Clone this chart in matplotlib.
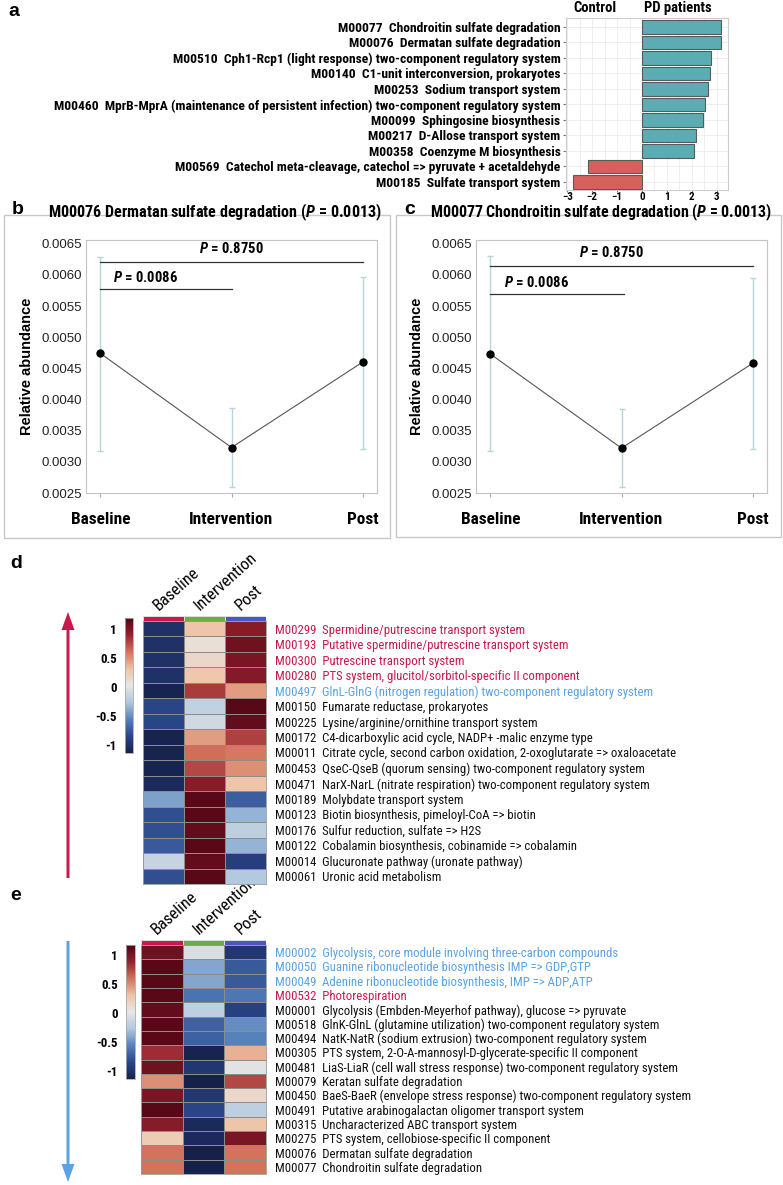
import numpy as np
import matplotlib
matplotlib.use('Agg')
import matplotlib.pyplot as plt
from matplotlib import font_manager
from matplotlib.colors import ListedColormap, LinearSegmentedColormap
from matplotlib.patches import Rectangle, FancyArrow

installed = {f.name for f in font_manager.fontManager.ttflist}
narrow = next(n for n in ['Liberation Sans Narrow', 'Roboto Condensed', 'Lato', 'DejaVu Sans'] if n in installed)
arial = next(n for n in ['Liberation Sans', 'DejaVu Sans'] if n in installed)
plt.rcParams['font.family'] = [narrow, 'DejaVu Sans']
plt.rcParams['mathtext.fontset'] = 'custom'
plt.rcParams['mathtext.it'] = narrow + ':italic:bold'
plt.rcParams['mathtext.rm'] = narrow + ':bold'

W, H = 783, 1185

# ---- panel a: enrichment scores
a_labels = ['M00077  Chondroitin sulfate degradation',
            'M00076  Dermatan sulfate degradation',
            'M00510  Cph1-Rcp1 (light response) two-component regulatory system',
            'M00140  C1-unit interconversion, prokaryotes',
            'M00253  Sodium transport system',
            'M00460  MprB-MprA (maintenance of persistent infection) two-component regulatory system',
            'M00099  Sphingosine biosynthesis',
            'M00217  D-Allose transport system',
            'M00358  Coenzyme M biosynthesis',
            'M00569  Catechol meta-cleavage, catechol => pyruvate + acetaldehyde',
            'M00185  Sulfate transport system']
a_values = [3.15, 3.15, 2.78, 2.74, 2.63, 2.52, 2.43, 2.15, 2.09, -2.15, -2.77]

# ---- panels b, c: relative abundance over time
groups = ['Baseline', 'Intervention', 'Post']
b_mean = [0.00474, 0.00323, 0.00460]
b_low = [0.00318, 0.00260, 0.00321]
b_high = [0.00629, 0.00386, 0.00597]
b_sig = [(0, 1, 0.00577, 0.34, 0.00596, '0.0086'), (0, 2, 0.00621, 1.0, 0.00642, '0.8750')]
c_mean = [0.00473, 0.00322, 0.00458]
c_low = [0.00317, 0.00260, 0.00320]
c_high = [0.00630, 0.00385, 0.00595]
c_sig = [(0, 1.02, 0.00569, 0.35, 0.00588, '0.0086'), (0, 2, 0.00615, 0.92, 0.00636, '0.8750')]

# ---- panel d: z-scored modules increasing
d_labels = ['M00299  Spermidine/putrescine transport system',
            'M00193  Putative spermidine/putrescine transport system',
            'M00300  Putrescine transport system',
            'M00280  PTS system, glucitol/sorbitol-specific II component',
            'M00497  GlnL-GlnG (nitrogen regulation) two-component regulatory system',
            'M00150  Fumarate reductase, prokaryotes',
            'M00225  Lysine/arginine/ornithine transport system',
            'M00172  C4-dicarboxylic acid cycle, NADP+ -malic enzyme type',
            'M00011  Citrate cycle, second carbon oxidation, 2-oxoglutarate => oxaloacetate',
            'M00453  QseC-QseB (quorum sensing) two-component regulatory system',
            'M00471  NarX-NarL (nitrate respiration) two-component regulatory system',
            'M00189  Molybdate transport system',
            'M00123  Biotin biosynthesis, pimeloyl-CoA => biotin',
            'M00176  Sulfur reduction, sulfate => H2S',
            'M00122  Cobalamin biosynthesis, cobinamide => cobalamin',
            'M00014  Glucuronate pathway (uronate pathway)',
            'M00061  Uronic acid metabolism']
d_mark = ['up'] * 4 + ['down'] + [''] * 12
d_values = [[-1.00, 0.30, 0.95],
            [-1.00, 0.08, 1.05],
            [-1.00, 0.15, 1.00],
            [-1.00, 0.28, 0.97],
            [-1.10, 0.80, 0.45],
            [-0.85, -0.18, 1.15],
            [-0.85, -0.10, 1.10],
            [-1.10, 0.45, 0.78],
            [-1.10, 0.62, 0.58],
            [-1.10, 0.75, 0.50],
            [-1.05, 0.95, 0.30],
            [-0.42, 1.15, -0.72],
            [-0.80, 1.15, -0.35],
            [-0.80, 1.10, -0.20],
            [-0.75, 1.15, -0.35],
            [-0.15, 1.10, -0.90],
            [-0.80, 1.15, -0.25]]

# ---- panel e: z-scored modules decreasing
e_labels = ['M00002  Glycolysis, core module involving three-carbon compounds',
            'M00050  Guanine ribonucleotide biosynthesis IMP => GDP,GTP',
            'M00049  Adenine ribonucleotide biosynthesis, IMP => ADP,ATP',
            'M00532  Photorespiration',
            'M00001  Glycolysis (Embden-Meyerhof pathway), glucose => pyruvate',
            'M00518  GlnK-GlnL (glutamine utilization) two-component regulatory system',
            'M00494  NatK-NatR (sodium extrusion) two-component regulatory system',
            'M00305  PTS system, 2-O-A-mannosyl-D-glycerate-specific II component',
            'M00481  LiaS-LiaR (cell wall stress response) two-component regulatory system',
            'M00079  Keratan sulfate degradation',
            'M00450  BaeS-BaeR (envelope stress response) two-component regulatory system',
            'M00491  Putative arabinogalactan oligomer transport system',
            'M00315  Uncharacterized ABC transport system',
            'M00275  PTS system, cellobiose-specific II component',
            'M00076  Dermatan sulfate degradation',
            'M00077  Chondroitin sulfate degradation']
e_mark = ['down'] * 3 + ['up'] + [''] * 12
e_values = [[1.05, -0.05, -0.95],
            [1.15, -0.40, -0.75],
            [1.15, -0.40, -0.75],
            [1.15, -0.62, -0.60],
            [1.10, -0.20, -0.88],
            [1.15, -0.70, -0.50],
            [1.15, -0.70, -0.55],
            [0.85, -1.10, 0.38],
            [1.05, -0.95, -0.02],
            [0.50, -1.15, 0.75],
            [1.00, -0.95, 0.15],
            [1.15, -0.85, -0.20],
            [0.95, -1.05, 0.30],
            [0.25, -1.05, 1.00],
            [0.60, -1.15, 0.60],
            [0.60, -1.15, 0.60]]

RED = '#c8194c'
BLUE = '#59a3e6'
mark_color = {'up': RED, 'down': BLUE, '': '#111111'}


def box(l, t, r, b):
    return [l / W, 1 - b / H, (r - l) / W, (b - t) / H]


fig = plt.figure(figsize=(W / 100, H / 100), dpi=100)
bg = fig.add_axes([0, 0, 1, 1])
bg.set_xlim(0, W)
bg.set_ylim(H, 0)
bg.axis('off')

for ch, x, y in [('a', 8, 12), ('b', 12, 209), ('c', 404, 209), ('d', 10, 563), ('e', 10, 896)]:
    bg.text(x, y, ch, fontsize=14, fontweight='bold', family=arial, va='center')

# ---- a
ax = fig.add_axes(box(566, 18, 728, 190))
y = np.arange(len(a_values))
cols = ['#5badb3' if v > 0 else '#d5605c' for v in a_values]
ax.barh(y, a_values, height=0.88, color=cols, edgecolor='#5a5a5a', linewidth=0.8, zorder=3)
ax.set_xlim(-3.05, 3.45)
ax.set_ylim(len(a_values) - 0.48, -0.58)
ax.set_xticks(range(-3, 4))
ax.set_xticks(np.arange(-2.5, 3.5, 1), minor=True)
ax.grid(True, which='both', color='#ebebeb', lw=0.6, zorder=0)
ax.set_yticks(y, a_labels, fontsize=9.7, fontweight='bold')
ax.tick_params(axis='y', which='both', length=2, color='#777777', pad=2)
ax.tick_params(axis='x', which='major', length=1.5, color='#777777', labelsize=8, pad=0.2)
ax.tick_params(axis='x', which='minor', length=0)
for t in ax.get_xticklabels():
    t.set_fontweight('bold')
for s in ax.spines.values():
    s.set_color('#cccccc')
ax.text(-1.9, 1.015, 'Control', transform=ax.get_xaxis_transform(), ha='center', va='bottom',
        fontsize=10.5, fontweight='bold')
ax.text(1.45, 1.015, 'PD patients', transform=ax.get_xaxis_transform(), ha='center', va='bottom',
        fontsize=10.5, fontweight='bold')


# ---- b, c
def trend(rect, mean, low, high, sig):
    ax = fig.add_axes(box(*rect))
    x = np.arange(len(groups))
    mean = np.array(mean)
    err = [mean - np.array(low), np.array(high) - mean]
    ax.errorbar(x, mean, yerr=err, fmt='none', ecolor='#b7d6da', elinewidth=1, capsize=2.5, capthick=1)
    ax.plot(x, mean, color='#555555', lw=0.8)
    ax.plot(x, mean, 'o', color='black', ms=5)
    for x0, x1, yl, xt, yt, p in sig:
        ax.plot([x0, x1], [yl, yl], color='#333333', lw=0.9)
        ax.text(xt, yt, r'$\it{P}$ = ' + p, ha='center', va='center', fontsize=10.5, fontweight='bold')
    ax.set_xlim(-0.11, 2.11)
    ax.set_ylim(0.0025, 0.00656)
    ticks = np.arange(0.0025, 0.00651, 0.0005)
    ax.set_yticks(ticks)
    ax.set_yticklabels(['%.4f' % v for v in ticks], family=arial, fontsize=9.5)
    ax.set_xticks(x, groups, fontsize=12.4, fontweight='bold')
    ax.tick_params(axis='y', length=0, pad=3, colors='#222222')
    ax.tick_params(axis='x', length=3, pad=11, color='#aaaaaa')
    ax.set_ylabel('Relative abundance', family=arial, fontsize=10.5, fontweight='bold', labelpad=5)
    for s in ax.spines.values():
        s.set_color('#c4c4c4')
        s.set_linewidth(0.8)
    return ax


bg.add_patch(Rectangle((4, 215), 386, 323, fill=False, ec='#c8c8c8', lw=1))
bg.add_patch(Rectangle((396, 215), 385, 322, fill=False, ec='#c8c8c8', lw=1))
bg.text(48, 212.5, r'M00076 Dermatan sulfate degradation ($\it{P}$ = 0.0013)', ha='left', va='center',
        fontsize=11.6, fontweight='bold')
bg.text(430, 212.5, r'M00077 Chondroitin sulfate degradation ($\it{P}$ = 0.0013)', ha='left', va='center',
        fontsize=11.4, fontweight='bold')
trend((86, 240, 377, 493), b_mean, b_low, b_high, b_sig)
trend((476, 240, 767, 493), c_mean, c_low, c_high, c_sig)

# ---- d, e heatmaps
cmap = LinearSegmentedColormap.from_list('zs', ['#16214a', '#2a468a', '#5581bb', '#b0c8e0', '#e8e6e4',
                                                '#efc3a6', '#d2735a', '#95222e', '#520515'])
strip_cmap = ListedColormap([RED, '#6aae45', '#4a54cf'])


def heat(l, t, r, b, values, labels, marks, cbar_rect):
    hm = fig.add_axes(box(l, t, r, b))
    v = np.array(values)
    m = hm.pcolormesh(v, cmap=cmap, vmin=-1.13, vmax=1.18, edgecolors='#8c8c8c', linewidth=0.6)
    hm.set_xlim(0, 3)
    hm.set_ylim(len(v), 0)
    hm.set_xticks([])
    hm.yaxis.tick_right()
    hm.set_yticks(np.arange(len(v)) + 0.5, labels, fontsize=9.2)
    for t_, mk in zip(hm.get_yticklabels(), marks):
        t_.set_color(mark_color[mk])
    hm.tick_params(axis='y', length=0, pad=6.5)
    for s in hm.spines.values():
        s.set_color('#9a9a9a')
        s.set_linewidth(0.6)

    st = fig.add_axes(box(l, t - 5, r, t - 0.5))
    st.pcolormesh([[0, 1, 2]], cmap=strip_cmap, vmin=0, vmax=2, edgecolors='#dddddd', linewidth=0.5)
    st.set_xticks([])
    st.set_yticks([])
    for s in st.spines.values():
        s.set_visible(False)
    cw = (r - l) / 3
    for i, g in enumerate(groups):
        bg.text(l + i * cw + 18, t - 8, g, rotation=42, rotation_mode='anchor',
                ha='left', va='bottom', fontsize=12)

    cax = fig.add_axes(box(*cbar_rect))
    cb = fig.colorbar(m, cax=cax, ticks=[-1, -0.5, 0, 0.5, 1])
    cb.ax.set_yticklabels(['-1', '-0.5', '0', '0.5', '1'], fontsize=9.3, fontweight='bold')
    cax.yaxis.set_ticks_position('left')
    cax.tick_params(length=0, pad=6)
    cb.outline.set_edgecolor('#aaaaaa')
    cb.outline.set_linewidth(0.6)


heat(143, 621, 266, 884, d_values, d_labels, d_mark, (125, 618, 133, 753))
heat(141, 945, 266, 1174, e_values, e_labels, e_mark, (126, 945, 135, 1079))

bg.add_patch(FancyArrow(68, 878, 0, -266, width=3, head_width=13, head_length=18,
                        length_includes_head=True, color=RED, lw=0))
bg.add_patch(FancyArrow(68, 941, 0, 241, width=3, head_width=13, head_length=18,
                        length_includes_head=True, color=BLUE, lw=0))

fig.savefig('out.png', dpi=100)
